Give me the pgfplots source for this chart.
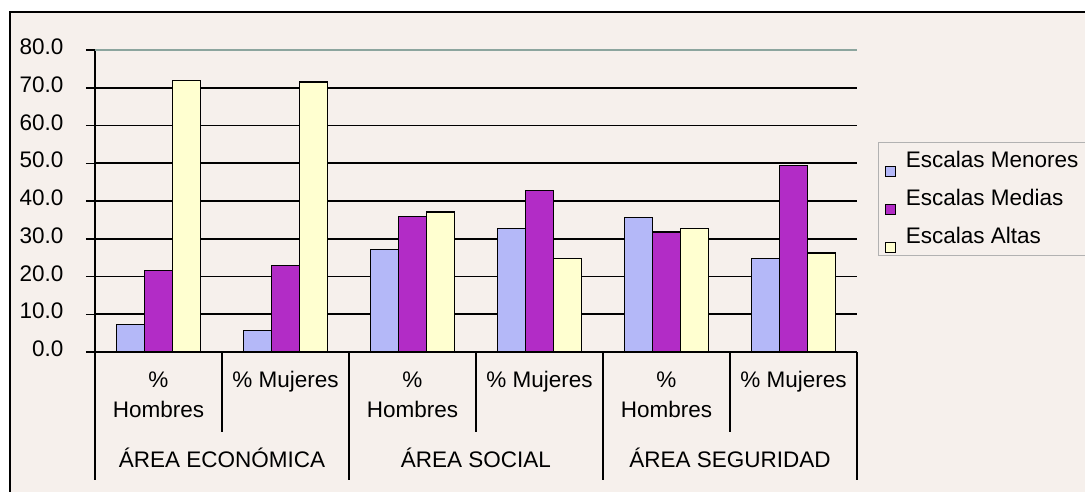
\documentclass[border=0pt]{standalone}
\usepackage{pgfplots}
\pgfplotsset{compat=1.18}
\usepackage{fontspec}
\setmainfont{Liberation Sans}
\definecolor{bgc}{RGB}{246,240,236}
\definecolor{cblue}{RGB}{180,184,248}
\definecolor{cpurp}{RGB}{178,44,198}
\definecolor{cyell}{RGB}{255,255,208}
\definecolor{gridtop}{RGB}{140,165,158}
\newcommand{\lblfont}{\fontsize{22.5bp}{30bp}\selectfont}

\begin{document}
\begin{tikzpicture}
\useasboundingbox (0bp,0bp) rectangle (1085bp,497bp);
\clip (0bp,0bp) rectangle (1085bp,497bp);
\fill[white] (0bp,0bp) rectangle (1085bp,497bp);
\fill[bgc] (10bp,5bp) rectangle (1095bp,485bp);
\draw[line width=1.5bp] (10bp,5bp) -- (10bp,485bp) -- (1095bp,485bp);
\begin{axis}[
    at={(95bp,145bp)}, anchor=south west,
    scale only axis, width=762bp, height=302bp,
    ybar=0pt, bar width=28bp,
    xmin=-0.5, xmax=5.5, ymin=0, ymax=80,
    clip=false,
    axis x line*=bottom, axis y line*=left,
    axis line style={-, line width=1.5bp, black},
    ytick={0,10,...,70}, extra y ticks={80},
    extra y tick style={grid style={gridtop, line width=2bp}},
    ymajorgrids, grid style={black, line width=1.8bp},
    tick align=outside, major tick length=9bp,
    xtick style={draw=none}, ytick style={black, line width=1.5bp},
    /pgf/number format/assume math mode=true,
    yticklabel style={/pgf/number format/fixed, /pgf/number format/fixed zerofill,
        /pgf/number format/precision=1, font=\lblfont, yshift=3bp, xshift=-19bp},
    xtick={0,...,5},
    xticklabels={{\%\\Hombres},{\% Mujeres},{\%\\Hombres},{\% Mujeres},{\%\\Hombres},{\% Mujeres}},
    xticklabel style={align=center, font=\lblfont, yshift=-7bp},
    legend style={at={(axis description cs:1.027,0.695)}, anchor=north west,
        draw=gray!60, fill=bgc, font=\fontsize{22.5bp}{26bp}\selectfont,
        row sep=7bp, inner xsep=7bp, inner ysep=3bp},
    legend cell align=left,
    legend image code/.code={
        \draw[#1, draw=black, line width=0.8bp] (0bp,-16bp) rectangle (10bp,-6bp);
        \path (18bp,14bp);},
]
\addplot[fill=cblue, draw=black, line width=1.2bp] coordinates {(0,7.3) (1,5.7) (2,27.1) (3,32.7) (4,35.6) (5,24.7)};
\addplot[fill=cpurp, draw=black, line width=1.2bp] coordinates {(0,21.6) (1,23.0) (2,36.0) (3,42.8) (4,31.8) (5,49.3)};
\addplot[fill=cyell, draw=black, line width=1.2bp] coordinates {(0,72.0) (1,71.5) (2,37.1) (3,24.7) (4,32.7) (5,26.2)};
\legend{Escalas Menores, Escalas Medias, Escalas Altas}
\draw[line width=1.3bp] (axis cs:-0.5,0) -- ++(0bp,-128bp);
\draw[line width=1.3bp] (axis cs:1.5,0) -- ++(0bp,-128bp);
\draw[line width=1.3bp] (axis cs:3.5,0) -- ++(0bp,-128bp);
\draw[line width=1.3bp] (axis cs:5.5,0) -- ++(0bp,-128bp);
\draw[line width=1.3bp] (axis cs:0.5,0) -- ++(0bp,-80bp);
\draw[line width=1.3bp] (axis cs:2.5,0) -- ++(0bp,-80bp);
\draw[line width=1.3bp] (axis cs:4.5,0) -- ++(0bp,-80bp);
\node[font=\lblfont] at (axis cs:0.5,0) [yshift=-106bp] {ÁREA ECONÓMICA};
\node[font=\lblfont] at (axis cs:2.5,0) [yshift=-106bp] {ÁREA SOCIAL};
\node[font=\lblfont] at (axis cs:4.5,0) [yshift=-106bp] {ÁREA SEGURIDAD};
\end{axis}
\end{tikzpicture}
\end{document}
